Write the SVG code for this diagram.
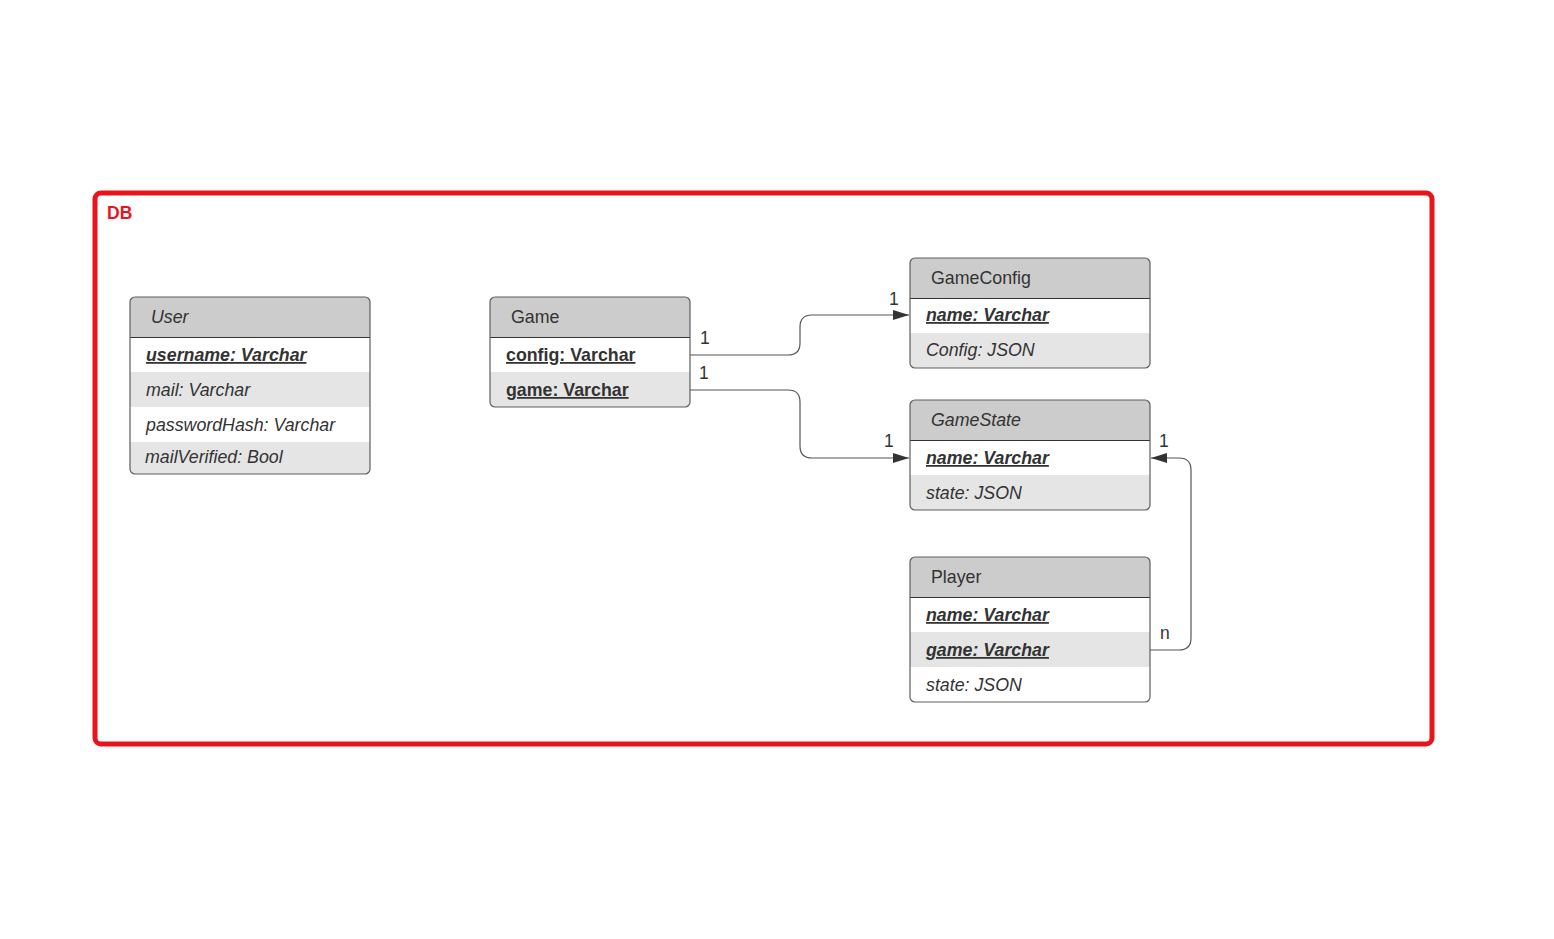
<svg xmlns="http://www.w3.org/2000/svg" width="1554" height="939" viewBox="0 0 1554 939">
<style>
.hdr{fill:#cccccc}
.alt{fill:#e5e5e5}
.frame{fill:none;stroke:#5e5e5e;stroke-width:1.2}
.sep{stroke:#333;stroke-width:1.2}
.t{font-family:"Liberation Sans",Arial,sans-serif;font-size:17.8px;fill:#333}
.i{font-style:italic}
.k{font-weight:bold;text-decoration:underline}
.conn{fill:none;stroke:#555;stroke-width:1.2}
.lbl{font-family:"Liberation Sans",Arial,sans-serif;font-size:17.5px;fill:#333}
</style>
<defs>
<marker id="arr" viewBox="0 0 16 10" refX="16" refY="5" markerWidth="16" markerHeight="10" markerUnits="userSpaceOnUse" orient="auto">
<path d="M0,0 L16,5 L0,10 Z" fill="#333"/>
</marker>
</defs>
<rect width="1554" height="939" fill="#ffffff"/>

<g id="db">
<rect x="95" y="193" width="1337" height="551" rx="6" fill="none" stroke="#e8141a" stroke-width="5"/>
<text x="107" y="219" style="font-family:'Liberation Sans',Arial,sans-serif;font-size:17.5px;font-weight:bold;fill:#e8141a">DB</text>
</g>

<g id="user">
<rect x="130" y="297" width="240" height="177" rx="5" fill="#fff"/>
<path class="hdr" d="M135,297 H365 A5,5 0 0 1 370,302 V337 H130 V302 A5,5 0 0 1 135,297 Z"/>
<rect class="alt" x="130" y="372" width="240" height="35"/>
<path class="alt" d="M130,442 H370 V469 A5,5 0 0 1 365,474 H135 A5,5 0 0 1 130,469 Z"/>
<line class="sep" x1="130" y1="337.5" x2="370" y2="337.5"/>
<rect class="frame" x="130" y="297" width="240" height="177" rx="5"/>
<text class="t i" x="151" y="323">User</text>
<text class="t i k" x="146" y="361">username: Varchar</text>
<text class="t i" x="146" y="396">mail: Varchar</text>
<text class="t i" x="146" y="431">passwordHash: Varchar</text>
<text class="t i" x="145" y="463">mailVerified: Bool</text>
</g>

<g id="game">
<rect x="490" y="297" width="200" height="110" rx="5" fill="#fff"/>
<path class="hdr" d="M495,297 H685 A5,5 0 0 1 690,302 V337 H490 V302 A5,5 0 0 1 495,297 Z"/>
<path class="alt" d="M490,372 H690 V402 A5,5 0 0 1 685,407 H495 A5,5 0 0 1 490,402 Z"/>
<line class="sep" x1="490" y1="337.5" x2="690" y2="337.5"/>
<rect class="frame" x="490" y="297" width="200" height="110" rx="5"/>
<text class="t" x="511" y="323">Game</text>
<text class="t k" x="506" y="361">config: Varchar</text>
<text class="t k" x="506" y="396">game: Varchar</text>
</g>

<g id="gameconfig">
<rect x="910" y="258" width="240" height="110" rx="5" fill="#fff"/>
<path class="hdr" d="M915,258 H1145 A5,5 0 0 1 1150,263 V298 H910 V263 A5,5 0 0 1 915,258 Z"/>
<path class="alt" d="M910,333 H1150 V363 A5,5 0 0 1 1145,368 H915 A5,5 0 0 1 910,363 Z"/>
<line class="sep" x1="910" y1="298.5" x2="1150" y2="298.5"/>
<rect class="frame" x="910" y="258" width="240" height="110" rx="5"/>
<text class="t" x="931" y="284">GameConfig</text>
<text class="t i k" x="926" y="321">name: Varchar</text>
<text class="t i" x="926" y="356">Config: JSON</text>
</g>

<g id="gamestate">
<rect x="910" y="400" width="240" height="110" rx="5" fill="#fff"/>
<path class="hdr" d="M915,400 H1145 A5,5 0 0 1 1150,405 V440 H910 V405 A5,5 0 0 1 915,400 Z"/>
<path class="alt" d="M910,475 H1150 V505 A5,5 0 0 1 1145,510 H915 A5,5 0 0 1 910,505 Z"/>
<line class="sep" x1="910" y1="440.5" x2="1150" y2="440.5"/>
<rect class="frame" x="910" y="400" width="240" height="110" rx="5"/>
<text class="t i" x="931" y="426">GameState</text>
<text class="t i k" x="926" y="464">name: Varchar</text>
<text class="t i" x="926" y="499">state: JSON</text>
</g>

<g id="player">
<rect x="910" y="557" width="240" height="145" rx="5" fill="#fff"/>
<path class="hdr" d="M915,557 H1145 A5,5 0 0 1 1150,562 V597 H910 V562 A5,5 0 0 1 915,557 Z"/>
<rect class="alt" x="910" y="632" width="240" height="35"/>
<line class="sep" x1="910" y1="597.5" x2="1150" y2="597.5"/>
<rect class="frame" x="910" y="557" width="240" height="145" rx="5"/>
<text class="t" x="931" y="583">Player</text>
<text class="t i k" x="926" y="621">name: Varchar</text>
<text class="t i k" x="926" y="656">game: Varchar</text>
<text class="t i" x="926" y="691">state: JSON</text>
</g>

<g id="connectors">
<path class="conn" d="M690,355 H788 Q800,355 800,343 V327 Q800,315 812,315 H909" marker-end="url(#arr)"/>
<path class="conn" d="M690,390 H788 Q800,390 800,402 V446 Q800,458 812,458 H909" marker-end="url(#arr)"/>
<path class="conn" d="M1150,650 H1179 Q1191,650 1191,638 V470 Q1191,458 1179,458 H1151" marker-end="url(#arr)"/>
<text class="lbl" x="700" y="344">1</text>
<text class="lbl" x="889" y="305">1</text>
<text class="lbl" x="699" y="379">1</text>
<text class="lbl" x="884" y="447">1</text>
<text class="lbl" x="1159" y="447">1</text>
<text class="lbl" x="1160" y="639">n</text>
</g>
</svg>
